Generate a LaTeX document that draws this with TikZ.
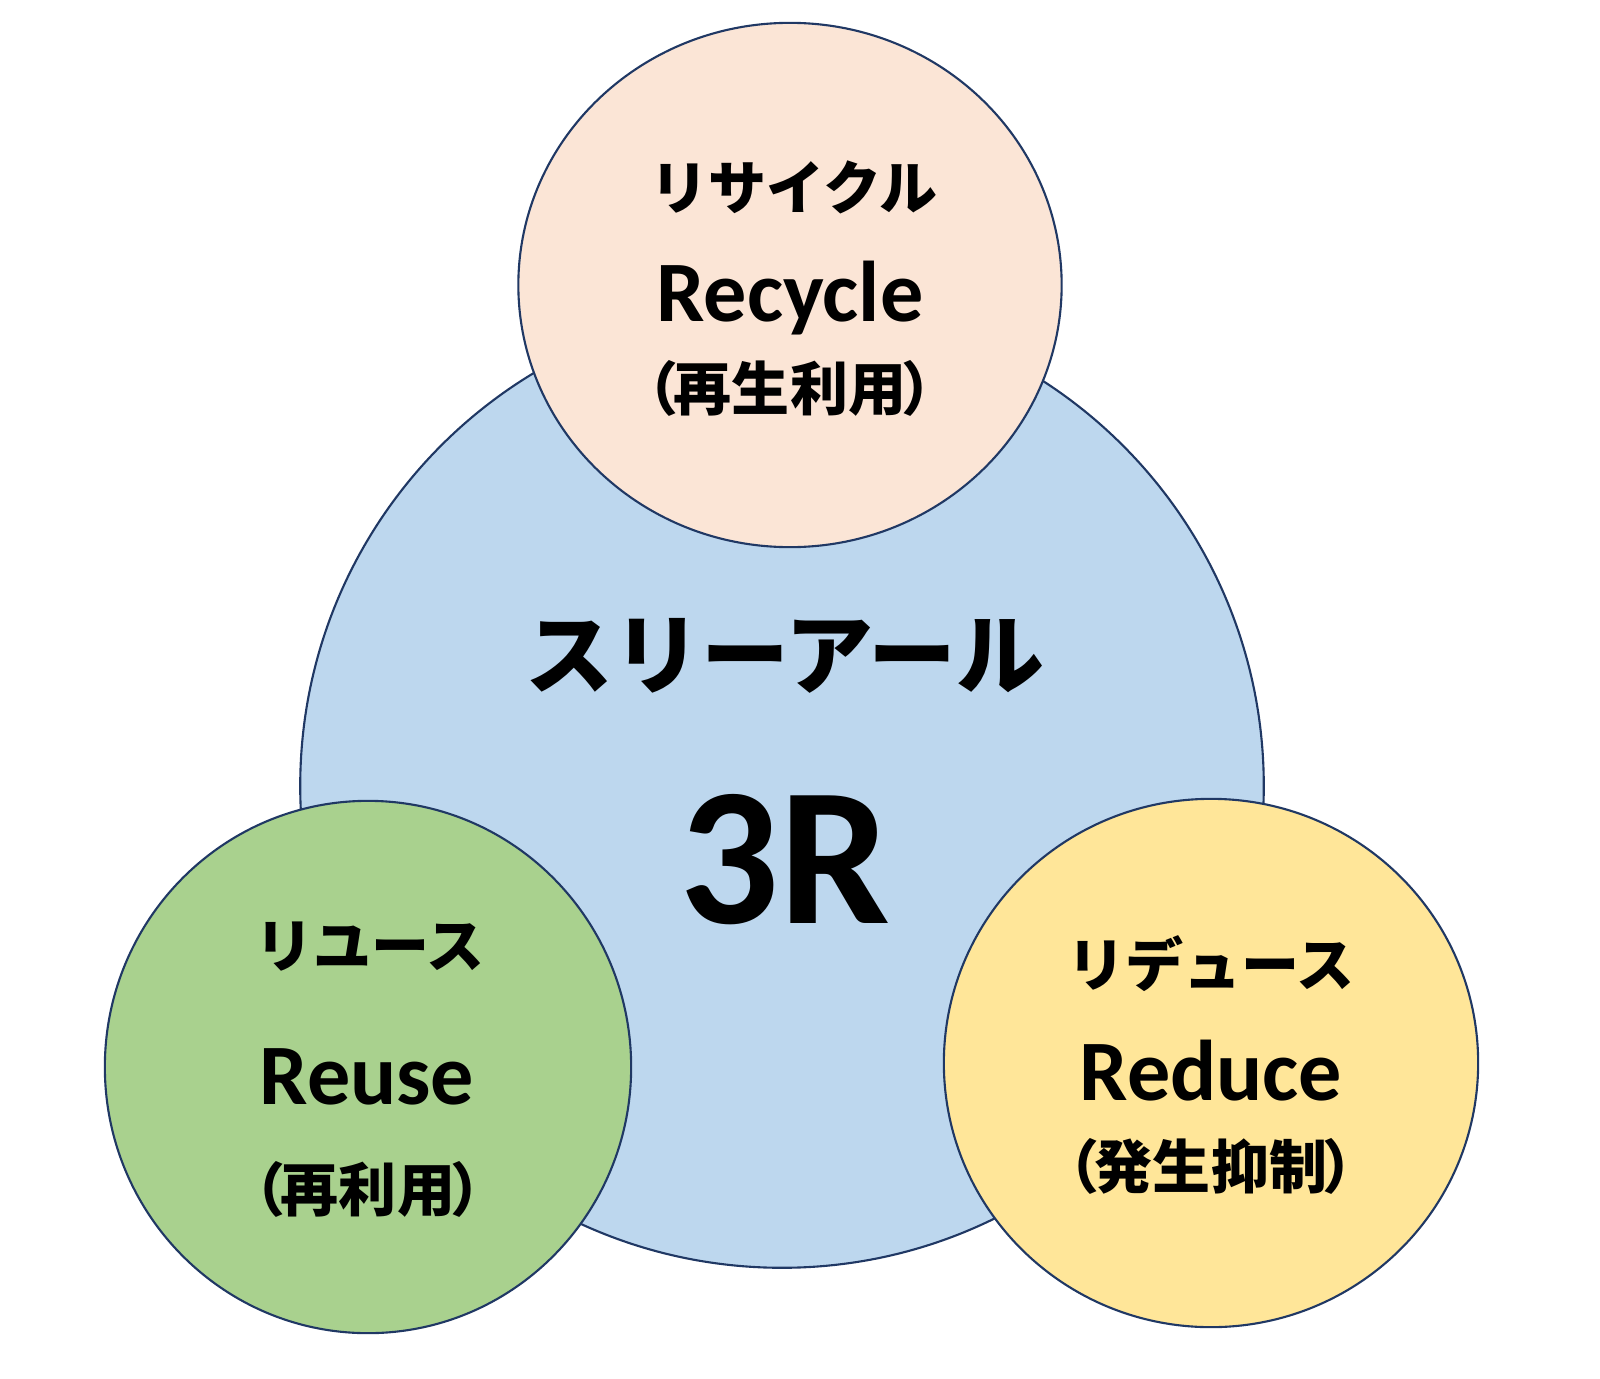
\documentclass[tikz,border=0pt]{standalone}
\usepackage{fontspec}
\setmainfont{Carlito}
\newfontfamily\jpfont{Noto Sans CJK JP}
\usetikzlibrary{shapes.geometric}
\definecolor{threefill}{HTML}{BDD7EE}
\definecolor{recyclefill}{HTML}{FBE5D6}
\definecolor{reusefill}{HTML}{A9D18E}
\definecolor{reducefill}{HTML}{FFE699}
\definecolor{rim}{HTML}{203864}
\newcommand{\paren}[1]{（\kern-0.08em#1\kern-0.08em）}
\begin{document}
\begin{tikzpicture}[x=0.01cm, y=-0.01cm,
  bubble/.style={ellipse, draw=rim, line width=0.6pt, inner sep=0pt},
  kana/.style={font=\jpfont\bfseries\fontsize{16.5}{20}\selectfont},
  eng/.style={anchor=base, font=\bfseries\fontsize{24.5}{28}\selectfont}]
  \useasboundingbox (0,0) rectangle (1600,1379);
  % big circle and the three R's
  \node[bubble, fill=threefill, minimum width=9.63cm, minimum height=9.63cm] (three) at (782,786) {};
  \node[bubble, fill=recyclefill, minimum width=5.43cm, minimum height=5.24cm] (recycle) at (790,285) {};
  \node[bubble, fill=reusefill, minimum width=5.26cm, minimum height=5.32cm] (reuse) at (368,1067) {};
  \node[bubble, fill=reducefill, minimum width=5.34cm, minimum height=5.28cm] (reduce) at (1211,1063) {};
  % centre texts
  \node[font=\jpfont\bfseries\fontsize{25}{30}\selectfont] (threekana) at (785,656) {スリーアール};
  \node[anchor=base, font=\bfseries\fontsize{56}{62}\selectfont] (threename) at (785,923) {3R};
  % recycle
  \node[kana] (recyclekana) at (794,187) {リサイクル};
  \node[eng] (recyclename) at (790,321) {Recycle};
  \node[kana] (recyclejp) at (790,388) {\paren{再生利用}};
  % reuse
  \node[kana] (reusekana) at (370,947) {リユース};
  \node[eng] (reusename) at (367,1104) {Reuse};
  \node[kana] (reusejp) at (368,1189) {\paren{再利用}};
  % reduce
  \node[kana] (reducekana) at (1211,964) {リデュース};
  \node[eng] (reducename) at (1211,1100) {Reduce};
  \node[kana] (reducejp) at (1211,1166) {\paren{発生抑制}};
\end{tikzpicture}
\end{document}
